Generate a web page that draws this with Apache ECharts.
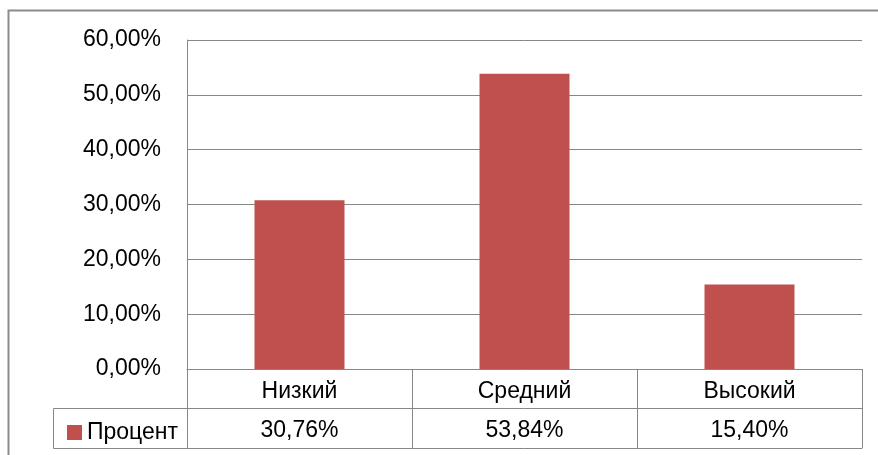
<!DOCTYPE html>
<html><head><meta charset="utf-8">
<script src="https://cdn.jsdelivr.net/npm/echarts@6/dist/echarts.min.js"></script>
<style>html,body{margin:0;padding:0;background:#fff}#c{width:878px;height:455px}</style>
</head><body><div id="c"></div>
<script>
var categories = ['Низкий', 'Средний', 'Высокий'];
var seriesName = 'Процент';
var values = [30.76, 53.84, 15.40];
var yTicks = [0, 10, 20, 30, 40, 50, 60];

function pct(v){ return v.toFixed(2).replace('.', ',') + '%'; }
var gray = '#878787';
var FONT = 'Liberation Sans';
var FS = 23;
var chart = echarts.init(document.getElementById('c'));
chart.setOption({
  animation: false,
  textStyle: { fontFamily: FONT },
  grid: { left: 187, right: 16, top: 40, bottom: 86, containLabel: false },
  legend: {
    data: [seriesName], left: 62, top: 416, icon: 'rect', itemWidth: 15, itemHeight: 15,
    textStyle: { fontFamily: FONT, fontSize: FS, color: '#000' }, selectedMode: false
  },
  yAxis: {
    type: 'value', min: yTicks[0], max: yTicks[yTicks.length-1], interval: 10,
    axisLine: { show: true, lineStyle: { color: gray, width: 1 } },
    axisTick: { show: false },
    splitLine: { show: true, lineStyle: { color: gray, width: 1 } },
    axisLabel: { formatter: function(v){ return pct(v); }, fontFamily: FONT, fontSize: FS, color: '#000', margin: 26 }
  },
  xAxis: [
    { type: 'category', data: categories, position: 'bottom',
      axisLine: { show: true, lineStyle: { color: gray, width: 1 } },
      axisTick: { show: true, length: 79, lineStyle: { color: gray, width: 1 } },
      axisLabel: { fontFamily: FONT, fontSize: FS, color: '#000', margin: 11 } },
    { type: 'category', data: values.map(pct), position: 'bottom', offset: 39,
      axisLine: { show: true, lineStyle: { color: gray, width: 1 } },
      axisTick: { show: false },
      axisLabel: { fontFamily: FONT, fontSize: FS, color: '#000', margin: 11 } },
    { type: 'category', data: categories, position: 'bottom', offset: 79,
      axisLine: { show: true, lineStyle: { color: gray, width: 1 } },
      axisTick: { show: false }, axisLabel: { show: false } }
  ],
  series: [{
    name: seriesName, type: 'bar', xAxisIndex: 0, data: values, barWidth: '40%',
    itemStyle: { color: '#C0504D' }
  }],
  graphic: [
    { type: 'rect', shape: { x: 8.5, y: 10.5, width: 900, height: 500 }, style: { fill: 'none', stroke: '#8c8c8c', lineWidth: 2 }, silent: true },
    { type: 'polyline', shape: { points: [[187, 408.5], [53.5, 408.5], [53.5, 448.5], [187, 448.5]] }, style: { fill: 'none', stroke: gray, lineWidth: 1 }, silent: true }
  ]
});
</script></body></html>
